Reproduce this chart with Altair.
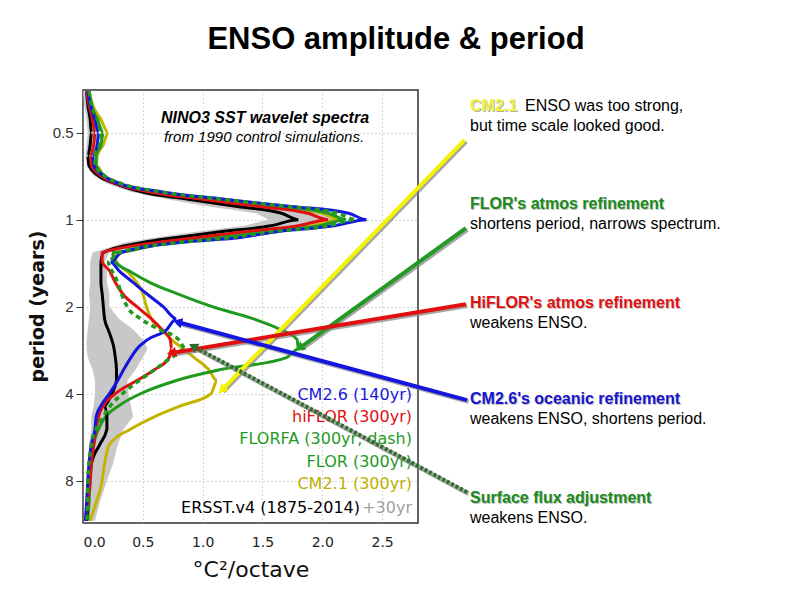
import altair as alt
import pandas as pd

# ---------------- data ----------------
periods = [0.36, 0.40, 0.45, 0.50, 0.55, 0.60, 0.65, 0.70, 0.75, 0.80,
           0.85, 0.90, 0.95, 1.00, 1.05, 1.10, 1.15, 1.20, 1.30, 1.40,
           1.50, 1.65, 1.80, 2.00, 2.20, 2.40, 2.60, 2.80, 3.00, 3.30,
           3.60, 4.00, 4.40, 4.80, 5.30, 6.00, 7.00, 8.00, 9.50, 11.0]

ersst = [0.03, 0.04, 0.06, 0.07, 0.06, 0.04, 0.05, 0.12, 0.27, 0.48,
         0.88, 1.29, 1.66, 1.80, 1.57, 1.15, 0.80, 0.50, 0.17, 0.15,
         0.15, 0.15, 0.16, 0.17, 0.18, 0.21, 0.24, 0.26, 0.27, 0.28,
         0.28, 0.24, 0.18, 0.20, 0.20, 0.14, 0.07, 0.05, 0.04, 0.03]
ersst_lo = [0.00, 0.01, 0.03, 0.04, 0.03, 0.02, 0.03, 0.08, 0.20, 0.40,
            0.70, 1.05, 1.45, 1.55, 1.35, 0.95, 0.62, 0.35, 0.08, 0.06,
            0.06, 0.06, 0.05, 0.06, 0.05, 0.04, 0.03, 0.03, 0.04, 0.08,
            0.10, 0.10, 0.09, 0.07, 0.07, 0.05, 0.04, 0.04, 0.03, 0.02]
ersst_hi = [0.06, 0.08, 0.11, 0.13, 0.12, 0.09, 0.10, 0.18, 0.36, 0.65,
            1.12, 1.62, 2.05, 2.18, 1.95, 1.45, 1.05, 0.65, 0.22, 0.18,
            0.20, 0.20, 0.22, 0.22, 0.30, 0.42, 0.50, 0.54, 0.50, 0.44,
            0.37, 0.38, 0.40, 0.42, 0.34, 0.29, 0.25, 0.20, 0.14, 0.10]
cm21 = [0.05, 0.08, 0.15, 0.21, 0.17, 0.12, 0.11, 0.17, 0.30, 0.60,
        1.08, 1.58, 2.00, 2.15, 1.92, 1.45, 1.10, 0.70, 0.26, 0.28,
        0.36, 0.45, 0.50, 0.53, 0.57, 0.66, 0.74, 0.84, 0.93, 1.05,
        1.12, 1.07, 0.82, 0.60, 0.40, 0.22, 0.18, 0.16, 0.11, 0.06]
flor = [0.05, 0.07, 0.12, 0.17, 0.15, 0.11, 0.11, 0.17, 0.30, 0.60,
        1.10, 1.62, 2.05, 2.20, 1.98, 1.50, 1.15, 0.72, 0.24, 0.27,
        0.38, 0.56, 0.78, 1.08, 1.42, 1.65, 1.79, 1.80, 1.70, 1.15,
        0.78, 0.48, 0.30, 0.19, 0.13, 0.09, 0.07, 0.06, 0.05, 0.04]
florfa = [0.05, 0.07, 0.12, 0.16, 0.14, 0.10, 0.10, 0.17, 0.32, 0.64,
          1.15, 1.70, 2.13, 2.28, 2.05, 1.58, 1.25, 0.80, 0.30, 0.20,
          0.24, 0.29, 0.32, 0.37, 0.48, 0.64, 0.80, 0.86, 0.74, 0.60,
          0.47, 0.33, 0.23, 0.17, 0.11, 0.07, 0.05, 0.04, 0.04, 0.03]
hiflor = [0.03, 0.05, 0.08, 0.10, 0.09, 0.06, 0.07, 0.14, 0.28, 0.55,
          1.00, 1.47, 1.88, 2.05, 1.80, 1.35, 0.98, 0.62, 0.16, 0.16,
          0.22, 0.27, 0.33, 0.45, 0.57, 0.66, 0.73, 0.74, 0.72, 0.60,
          0.45, 0.27, 0.17, 0.13, 0.11, 0.09, 0.07, 0.06, 0.04, 0.02]
cm26 = [0.04, 0.06, 0.10, 0.13, 0.12, 0.08, 0.09, 0.16, 0.30, 0.65,
        1.18, 1.74, 2.22, 2.37, 2.10, 1.62, 1.33, 0.81, 0.32, 0.23,
        0.30, 0.42, 0.53, 0.67, 0.78, 0.70, 0.54, 0.45, 0.40, 0.34,
        0.29, 0.22, 0.15, 0.11, 0.10, 0.07, 0.05, 0.04, 0.03, 0.02]

x_ticks = [0.0, 0.5, 1.0, 1.5, 2.0, 2.5]
y_ticks = [0.5, 1, 2, 4, 8]

legend_labels = ["CM2.6 (140yr)", "hiFLOR (300yr)", "FLORFA (300yr, dash)",
                 "FLOR (300yr)", "CM2.1 (300yr)"]
legend_colors = ["#1a1ad8", "#e01010", "#1f9a1f", "#1f9a1f", "#bdb000"]

# annotation arrows: start (near the notes) -> tip (on a curve), in data units
arrow_x0 = [3.19, 3.20, 3.20, 3.21, 3.21]
arrow_p0 = [0.53, 1.07, 1.96, 4.21, 8.76]
arrow_x1 = [1.16, 1.81, 0.74, 0.79, 0.92]
arrow_p1 = [3.89, 2.78, 2.89, 2.26, 2.74]
arrow_colors = ["#f4f400", "#239a23", "#e01010", "#1515e0", "#2d6e2d"]
arrow_angles = [224, 234, 260, 285, 298]

note_heads = ["FLOR's atmos refinement", "HiFLOR's atmos refinement",
              "CM2.6's oceanic refinement", "Surface flux adjustment"]
note_head_colors = ["#1a8a1a", "#e01010", "#1515cc", "#1a8a1a"]
note_bodies = ["shortens period, narrows spectrum.", "weakens ENSO.",
               "weakens ENSO, shortens period.", "weakens ENSO."]

# ---------------- chart ----------------
W, H = 335, 433
xs = alt.Scale(domain=[0, 2.8], nice=False, zero=False)
ys = alt.Scale(type="log", base=2, domain=[0.356, 11.2], reverse=True, nice=False)

df = pd.DataFrame({"period": periods, "ersst": ersst, "lo": ersst_lo, "hi": ersst_hi,
                   "cm21": cm21, "flor": flor, "florfa": florfa,
                   "hiflor": hiflor, "cm26": cm26})
base = alt.Chart(df)

xaxis = alt.Axis(values=x_ticks, format=".1f", title="°C²/octave",
                 labelFont="DejaVu Sans", labelFontSize=14, labelColor="#222",
                 labelPadding=12, tickSize=0, domain=False,
                 grid=True, gridDash=[1, 3], gridColor="#999", gridOpacity=0.8,
                 titleFont="DejaVu Sans", titleFontSize=22, titleFontWeight="normal",
                 titleColor="#111", titleX=W / 2, titleY=46, titleBaseline="middle")
yaxis = alt.Axis(values=y_ticks, format="~g", title="period (years)",
                 labelFont="Liberation Sans", labelFontSize=15, labelColor="#333",
                 labelPadding=3, tickSize=7, tickColor="#333", domain=False,
                 grid=True, gridDash=[1, 3], gridColor="#999", gridOpacity=0.8,
                 titleFont="DejaVu Sans", titleFontSize=19, titleFontWeight="bold",
                 titleColor="#111", titleAngle=-90, titleX=-46, titleY=216,
                 titleAlign="center", titleBaseline="middle")

band = base.mark_area(orient="horizontal", color="#c8c8c8").encode(
    y=alt.Y("period:Q", scale=ys, axis=yaxis),
    x=alt.X("lo:Q", scale=xs, axis=xaxis),
    x2="hi:Q")


def curve(col, color, dash=None, width=3):
    kw = dict(color=color, strokeWidth=width, interpolate="monotone")
    if dash:
        kw["strokeDash"] = dash
    return base.mark_line(**kw).encode(
        x=alt.X(f"{col}:Q", scale=xs),
        y=alt.Y("period:Q", scale=ys),
        order="period:Q")


lines = [curve("cm21", "#c4b400"), curve("flor", "#1f9a1f"), curve("ersst", "#000000"),
         curve("hiflor", "#e01010"), curve("cm26", "#1515e0"),
         curve("florfa", "#1f9a1f", dash=[5, 4], width=3.5)]

# legend inside the plot
leg_df = pd.DataFrame({"t": legend_labels, "c": legend_colors,
                       "row": list(range(len(legend_labels)))})
leg_rows = [305, 327, 349, 372, 394]
legend = alt.Chart(leg_df).transform_calculate(
    ypix=f"[{','.join(str(v) for v in leg_rows)}][datum.row]"
).mark_text(align="right", baseline="middle", font="DejaVu Sans", fontSize=16).encode(
    x=alt.value(329), y=alt.Y("ypix:Q", scale=None), text="t:N",
    color=alt.Color("c:N", scale=None))
ersst_lbl = alt.Chart(pd.DataFrame({"t": ["ERSST.v4 (1875-2014)"]})).mark_text(
    align="right", baseline="middle", font="DejaVu Sans", fontSize=16, color="#000",
    x=277, y=418).encode(text="t:N")
plus_lbl = alt.Chart(pd.DataFrame({"t": ["+30yr"]})).mark_text(
    align="right", baseline="middle", font="DejaVu Sans", fontSize=16, color="#a0a0a0",
    x=329, y=418).encode(text="t:N")

inset1 = alt.Chart(pd.DataFrame({"t": ["NINO3 SST wavelet spectra"]})).mark_text(
    align="center", baseline="middle", font="Liberation Sans", fontSize=16,
    fontWeight="bold", fontStyle="italic", color="#000", x=182, y=28).encode(text="t:N")
inset2 = alt.Chart(pd.DataFrame({"t": ["from 1990 control simulations."]})).mark_text(
    align="center", baseline="middle", font="Liberation Sans", fontSize=15,
    fontStyle="italic", color="#000", x=181, y=47).encode(text="t:N")

title = alt.Chart(pd.DataFrame({"t": ["ENSO amplitude & period"]})).mark_text(
    align="center", baseline="middle", font="Liberation Sans", fontSize=31,
    fontWeight="bold", color="#000", x=313, y=-50).encode(text="t:N")

# arrows
arr_df = pd.DataFrame({"x0": arrow_x0, "p0": arrow_p0, "x1": arrow_x1, "p1": arrow_p1,
                       "c": arrow_colors, "a": arrow_angles,
                       "solid": [1, 1, 1, 1, 0]})
arr = alt.Chart(arr_df)
shadow = arr.mark_rule(strokeWidth=4.5, color="#808080", opacity=0.7,
                       xOffset=1.5, x2Offset=1.5, yOffset=1.5, y2Offset=1.5).encode(
    x=alt.X("x0:Q", scale=xs), y=alt.Y("p0:Q", scale=ys),
    x2="x1:Q", y2="p1:Q")
solid_arrows = arr.transform_filter("datum.solid == 1").mark_rule(strokeWidth=4).encode(
    x=alt.X("x0:Q", scale=xs), y=alt.Y("p0:Q", scale=ys),
    x2="x1:Q", y2="p1:Q", color=alt.Color("c:N", scale=None))
dotted_arrow = arr.transform_filter("datum.solid == 0").mark_rule(
    strokeWidth=4, strokeDash=[3, 2]).encode(
    x=alt.X("x0:Q", scale=xs), y=alt.Y("p0:Q", scale=ys),
    x2="x1:Q", y2="p1:Q", color=alt.Color("c:N", scale=None))
heads = arr.mark_point(shape="triangle-up", filled=True, size=110, opacity=1).encode(
    x=alt.X("x1:Q", scale=xs), y=alt.Y("p1:Q", scale=ys),
    angle=alt.Angle("a:Q", scale=None), color=alt.Color("c:N", scale=None))

# right-hand notes
NX = 387
notes = []
cm = alt.Chart(pd.DataFrame({"t": ["CM2.1"]}))
notes.append(cm.mark_text(align="left", baseline="middle", font="Liberation Sans",
                          fontSize=16, fontWeight="bold", color="#b0b0a0",
                          x=NX + 1, y=17).encode(text="t:N"))
notes.append(cm.mark_text(align="left", baseline="middle", font="Liberation Sans",
                          fontSize=16, fontWeight="bold", color="#f2f240",
                          x=NX, y=16).encode(text="t:N"))
notes.append(alt.Chart(pd.DataFrame({"t": ["ENSO was too strong,"]})).mark_text(
    align="left", baseline="middle", font="Liberation Sans", fontSize=16,
    color="#000", x=NX + 55, y=16).encode(text="t:N"))
notes.append(alt.Chart(pd.DataFrame({"t": ["but time scale looked good."]})).mark_text(
    align="left", baseline="middle", font="Liberation Sans", fontSize=16,
    color="#000", x=NX, y=36).encode(text="t:N"))
head_y = [114, 213, 309, 408]
for s, c, b, hy in zip(note_heads, note_head_colors, note_bodies, head_y):
    d = alt.Chart(pd.DataFrame({"t": [s]}))
    notes.append(d.mark_text(align="left", baseline="middle", font="Liberation Sans",
                             fontSize=16, fontWeight="bold", color="#9a9a9a",
                             opacity=0.6, x=NX + 1, y=hy + 1).encode(text="t:N"))
    notes.append(d.mark_text(align="left", baseline="middle", font="Liberation Sans",
                             fontSize=16, fontWeight="bold", color=c,
                             x=NX, y=hy).encode(text="t:N"))
    notes.append(alt.Chart(pd.DataFrame({"t": [b]})).mark_text(
        align="left", baseline="middle", font="Liberation Sans", fontSize=16,
        color="#000", x=NX, y=hy + 20).encode(text="t:N"))

chart = alt.layer(band, *lines, legend, ersst_lbl, plus_lbl, inset1, inset2, title,
                  shadow, solid_arrows, dotted_arrow, heads, *notes).properties(
    width=W, height=H,
    autosize=alt.AutoSizeParams(type="none"),
    padding={"left": 75, "top": 82, "right": 368, "bottom": 64},
    background="white",
).configure_view(stroke="#333", strokeWidth=1.5)

chart.save("out.html", embed_options={"renderer": "svg", "actions": False})
